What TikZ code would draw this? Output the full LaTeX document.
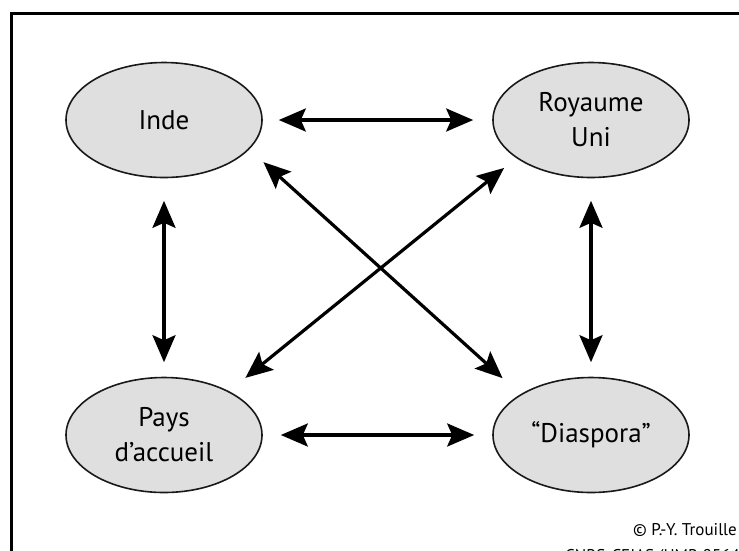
\documentclass[tikz,border=0pt]{standalone}
\usepackage{fontspec}
\setmainfont{PT Sans}
\usetikzlibrary{arrows.meta,shapes.geometric}
\begin{document}
\begin{tikzpicture}[x=1pt,y=-1pt,
  place/.style={ellipse, draw=black!90, line width=1.6pt, fill=gray!25,
    minimum width=196pt, minimum height=115pt, inner sep=0pt, align=center,
    font=\fontsize{27}{35}\selectfont},
  tipshape/.tip={Stealth[length=27pt,width=23pt,inset=5pt]},
  link/.style={line width=3.2pt, tipshape-tipshape},
  credit/.style={anchor=base east, inner sep=0pt, font=\fontsize{17}{20}\selectfont}]
\useasboundingbox (0,0) rectangle (739,550);
\clip (0,0) rectangle (739,550);
\draw[line width=3pt] (11.5,600) -- (11.5,13.5) -- (800,13.5);
\node[place] (inde) at (164,120) {Inde};
\node[place] (ru) at (591,120) {Royaume\\Uni};
\node[place] (pays) at (164,435) {Pays\\d’accueil};
\node[place] (dias) at (591,435) {“Diaspora”};
\draw[link, shorten <=16pt, shorten >=19pt] (inde) -- (ru);
\draw[link, shorten <=18pt, shorten >=18pt] (pays) -- (dias);
\draw[link, shorten <=22.5pt, shorten >=14.5pt] (inde) -- (pays);
\draw[link, shorten <=22.5pt, shorten >=14.5pt] (ru) -- (dias);
\draw[link, shorten <=19pt, shorten >=24pt] (inde.-19.86) -- (dias.150.3);
\draw[link, shorten <=15.6pt, shorten >=21pt] (ru.207.65) -- (pays.34);
\node[credit] (c1) at (737,535) {© P.-Y. Trouille};
\node[credit] (c2) at (740,561) {CNRS-CEIAS (UMR 8564};
\end{tikzpicture}
\end{document}
